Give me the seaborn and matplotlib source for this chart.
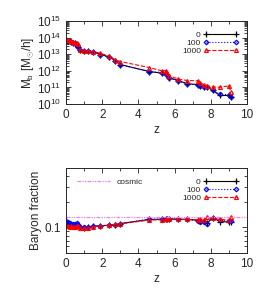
import numpy as np
import matplotlib
matplotlib.use("Agg")
import matplotlib.pyplot as plt
import seaborn as sns

# snapshot redshifts (shared by all runs)
z = [0, 0.1, 0.2, 0.3, 0.4, 0.5, 0.6, 0.65, 0.75, 1.0, 1.2, 1.5, 1.9, 2.4, 2.7, 3.0,
     4.6, 5.3, 5.5, 5.6, 5.7, 6.2, 6.7, 7.3, 7.4, 7.6, 7.8, 8.1, 8.5, 9.0, 9.1]

# log10 of baryonic mass [Msun/h]
logm_0 = [13.85, 13.82, 13.78, 13.74, 13.70, 13.66, 13.55, 13.46, 13.26, 13.22, 13.20, 13.15,
          12.98, 12.84, 12.62, 12.38, 11.96, 11.86, 11.82, 11.74, 11.58, 11.42, 11.22, 11.18,
          11.08, 11.00, 11.04, 10.82, 10.52, 10.52, 10.44]
logm_100 = [13.85, 13.82, 13.78, 13.74, 13.70, 13.66, 13.52, 13.46, 13.26, 13.22, 13.20, 13.15,
            12.96, 12.82, 12.60, 12.36, 11.96, 11.90, 11.84, 11.76, 11.56, 11.40, 11.20, 11.16,
            11.06, 11.00, 11.04, 10.82, 10.60, 10.56, 10.42]
logm_1000 = [13.90, 13.85, 13.82, 13.78, 13.74, 13.70, 13.66, 13.60, 13.28, 13.22, 13.20, 13.16,
             13.06, 12.88, 12.68, 12.56, 12.20, 12.00, 12.02, 11.86, 11.72, 11.50, 11.42, 11.40,
             11.28, 11.18, 11.12, 11.02, 11.02, 11.10, 10.74]

# baryon fraction
fb_0 = [0.112, 0.110, 0.108, 0.107, 0.106, 0.106, 0.108, 0.106, 0.100, 0.099, 0.100, 0.103,
        0.105, 0.106, 0.108, 0.111, 0.124, 0.125, 0.125, 0.125, 0.126, 0.125, 0.124, 0.122,
        0.120, 0.118, 0.113, 0.130, 0.117, 0.116, 0.115]
fb_100 = [0.118, 0.115, 0.113, 0.111, 0.110, 0.110, 0.112, 0.108, 0.100, 0.100, 0.100, 0.104,
          0.105, 0.106, 0.107, 0.111, 0.125, 0.125, 0.125, 0.126, 0.126, 0.125, 0.124, 0.118,
          0.116, 0.115, 0.111, 0.130, 0.122, 0.120, 0.119]
fb_1000 = [0.105, 0.104, 0.102, 0.103, 0.102, 0.101, 0.104, 0.103, 0.099, 0.098, 0.099, 0.102,
           0.104, 0.106, 0.109, 0.110, 0.122, 0.123, 0.124, 0.125, 0.126, 0.124, 0.124, 0.123,
           0.124, 0.121, 0.133, 0.128, 0.124, 0.122, 0.132]
fb_cosmic = 0.133

labels = ["0", "100", "1000"]

sns.set_style("ticks")
plt.rcParams["font.family"] = ["Liberation Sans", "DejaVu Sans"]
plt.rcParams["mathtext.fontset"] = "custom"
plt.rcParams["mathtext.rm"] = "Liberation Sans"
plt.rcParams["mathtext.it"] = "Liberation Sans"
plt.rcParams["xtick.direction"] = "in"
plt.rcParams["ytick.direction"] = "in"

fig = plt.figure(figsize=(2.66, 2.95), dpi=100)
ax1 = fig.add_axes([0.248, 0.647, 0.681, 0.282])
ax2 = fig.add_axes([0.248, 0.142, 0.681, 0.289])

styles = [dict(color="black", linestyle="-", marker="+", markersize=4),
          dict(color="blue", linestyle=":", marker="D", markersize=2.3),
          dict(color="red", linestyle="--", marker="^", markersize=2.8)]


def draw(ax, series):
    for vals, lab, st in zip(series, labels, styles):
        sns.lineplot(x=z, y=vals, ax=ax, label=lab, linewidth=0.8, mfc="none",
                     mec=st["color"], markeredgewidth=0.9, sort=False, **st)


draw(ax1, [10 ** np.array(logm_0), 10 ** np.array(logm_100), 10 ** np.array(logm_1000)])
draw(ax2, [fb_0, fb_100, fb_1000])

cos, = ax2.plot([0, 10], [fb_cosmic, fb_cosmic], color="violet", linestyle=(0, (3, 1, 1, 1, 1, 1)),
                linewidth=0.9)

for ax in (ax1, ax2):
    ax.set_yscale("log")
    ax.set_xlim(0, 10)
    ax.set_xticks([0, 2, 4, 6, 8, 10])
    ax.set_xticks(np.arange(0, 11, 1), minor=True)
    ax.tick_params(which="both", top=True, right=True, labelsize=8.5, width=0.6)
    ax.tick_params(which="major", length=3.5)
    ax.tick_params(which="minor", length=2)
    for s in ax.spines.values():
        s.set_linewidth(0.7)
    ax.set_xlabel("z", fontsize=8.5, labelpad=2)

ax1.set_ylim(1e10, 1e15)
ax1.set_yticks([1e10, 1e11, 1e12, 1e13, 1e14, 1e15])
ax1.yaxis.set_minor_locator(matplotlib.ticker.LogLocator(base=10, subs=np.arange(2, 10), numticks=20))
ax1.yaxis.set_minor_formatter(matplotlib.ticker.NullFormatter())
ax1.set_ylabel(r"M$_{\rm b}$ [M$_{\odot}$/h]", fontsize=8.5, labelpad=1)

ax2.set_ylim(0.05, 0.5)
ax2.set_yticks([0.1])
ax2.set_yticklabels(["0.1"])
ax2.yaxis.set_minor_locator(matplotlib.ticker.LogLocator(base=10, subs=np.arange(2, 10), numticks=20))
ax2.yaxis.set_minor_formatter(matplotlib.ticker.NullFormatter())
ax2.set_ylabel("Baryon fraction", fontsize=8.5, labelpad=2)

leg_kw = dict(frameon=False, fontsize=6, markerfirst=False, numpoints=2,
              handlelength=4.2, labelspacing=0.05, handletextpad=0.3, borderaxespad=0)
h1, l1 = ax1.get_legend_handles_labels()
ax1.legend(h1, l1, loc="upper right", bbox_to_anchor=(0.97, 0.92), **leg_kw)

h2, l2 = ax2.get_legend_handles_labels()
h2 = [h for h, l in zip(h2, l2) if l in labels]
leg2 = ax2.legend(h2, labels, loc="upper right", bbox_to_anchor=(0.97, 0.92), **leg_kw)
ax2.add_artist(leg2)
ax2.legend([cos], ["cosmic"], loc="upper left", bbox_to_anchor=(0.04, 0.92), frameon=False,
           fontsize=6, handlelength=4, handletextpad=0.8, borderaxespad=0)

fig.savefig("out.png", dpi=100)
